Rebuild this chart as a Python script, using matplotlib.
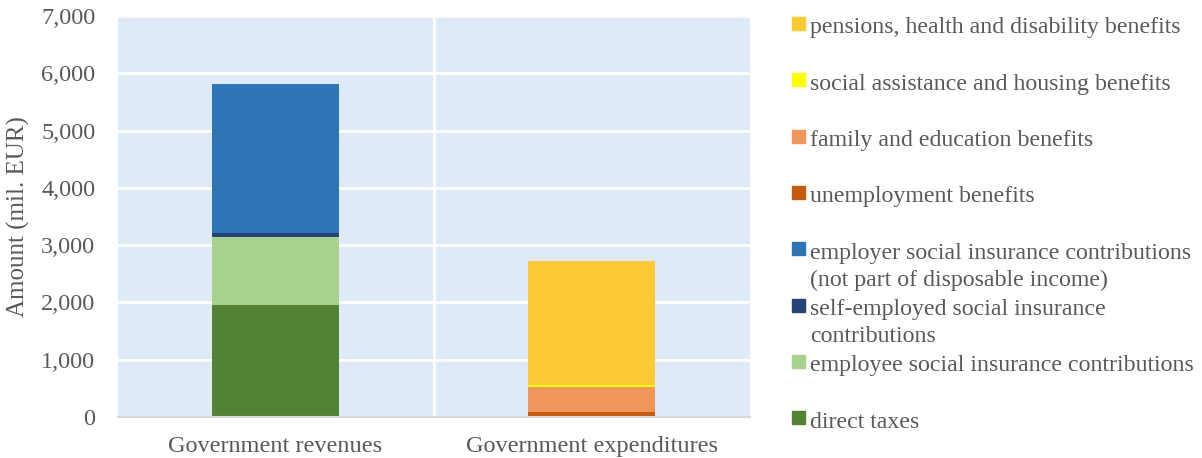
import matplotlib
matplotlib.use("Agg")
import matplotlib.pyplot as plt
from matplotlib.patches import Rectangle

categories = ["Government revenues", "Government expenditures"]

# series (bottom to top), values in mil. EUR
revenue_series = ["direct taxes", "employee social insurance contributions",
                  "self-employed social insurance\ncontributions",
                  "employer social insurance contributions\n(not part of disposable income)"]
revenue_values = [1955, 1186, 70, 2601]
revenue_colors = ["#548235", "#A9D18E", "#264478", "#2E75B6"]

expend_series = ["unemployment benefits", "family and education benefits",
                 "social assistance and housing benefits",
                 "pensions, health and disability benefits"]
expend_values = [87, 437, 43, 2156]
expend_colors = ["#C55A11", "#F1965A", "#FFFF00", "#FFCA33"]

yticks = [0, 1000, 2000, 3000, 4000, 5000, 6000, 7000]

plt.rcParams['font.family'] = ['Liberation Serif', 'DejaVu Serif']
txt = "#595959"
W, H = 1202, 458
fig = plt.figure(figsize=(W/100, H/100), dpi=100)
ax = fig.add_axes([117.5/W, (H-417)/H, (749.5-117.5)/W, (417-16)/H])
ax.set_facecolor("#DEEAF6")

bw = 0.4
bottom = 0
for v, c in zip(revenue_values, revenue_colors):
    ax.bar(0, v, bw, bottom=bottom, color=c, zorder=3)
    bottom += v
bottom = 0
for v, c in zip(expend_values, expend_colors):
    ax.bar(1, v, bw, bottom=bottom, color=c, zorder=3)
    bottom += v

ax.set_xlim(-0.5, 1.5)
ax.set_ylim(0, 7000)
ax.set_yticks(yticks)
ax.set_yticklabels([f"{t:,}" for t in yticks])
ax.set_xticks([0, 1])
ax.set_xticklabels(categories)
ax.grid(axis='y', color='white', linewidth=2, zorder=1)
ax.axvline(0.5, color='white', linewidth=2, zorder=1)
for s in ['top', 'right', 'left']:
    ax.spines[s].set_visible(False)
ax.spines['bottom'].set_color('#D9D9D9')
ax.spines['bottom'].set_linewidth(1.5)
ax.spines['bottom'].set_zorder(4)
ax.tick_params(axis='both', length=0, colors=txt, labelsize=17.5)
ax.tick_params(axis='y', pad=16)
ax.tick_params(axis='x', pad=13.5)
ax.set_ylabel("Amount (mil. EUR)", color=txt, fontsize=18)
ax.yaxis.label.set_va('center')
ax.yaxis.set_label_coords((18 - 117.5) / 632, 0.5)

# legend (top to bottom)
leg_labels = list(reversed(expend_series)) + list(reversed(revenue_series))
leg_colors = list(reversed(expend_colors)) + list(reversed(revenue_colors))
for i, (lab, col) in enumerate(zip(leg_labels, leg_colors)):
    yc = 23.5 + i * 56.3
    fig.patches.append(Rectangle((792/W, 1 - (yc + 6.5)/H), 12.5/W, 13/H,
                                 transform=fig.transFigure, color=col))
    for k, line in enumerate(lab.split("\n")):
        fig.text(810.5/W, 1 - (yc + 10 + k*27)/H, line, color=txt, fontsize=17.2,
                 ha='left', va='baseline')

fig.savefig("out.png", dpi=100)
